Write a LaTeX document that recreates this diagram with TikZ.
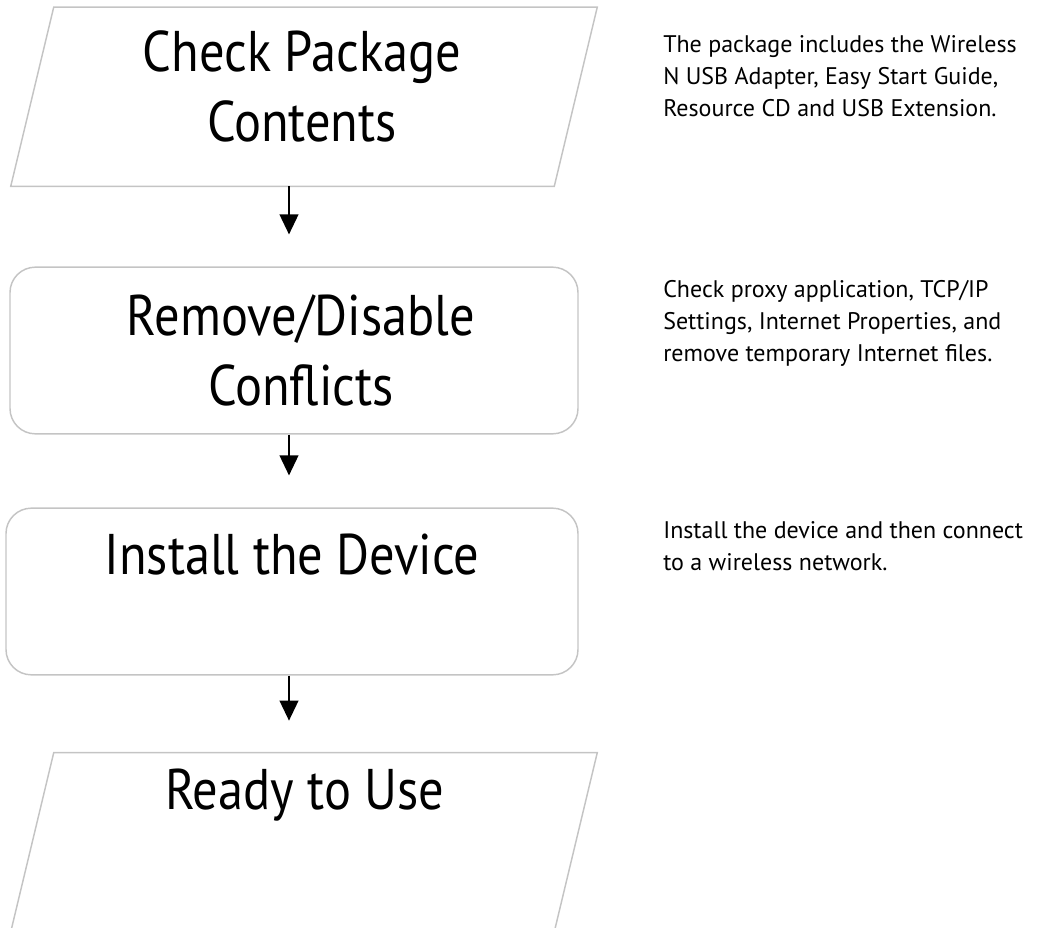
\documentclass[tikz,border=0pt]{standalone}
\usepackage{fontspec}
\setmainfont{PT Sans}
\newfontfamily\titlefont[FakeStretch=0.88]{PT Sans}
\usetikzlibrary{arrows.meta}
\definecolor{boxgray}{HTML}{C4C4C4}
\begin{document}
\begin{tikzpicture}[x=0.75pt,y=-0.75pt,
  roundbox/.style={rectangle, draw=boxgray, line width=1.1pt, rounded corners=19pt,
    minimum height=125pt, inner sep=0pt},
  slantbox/.style={rectangle, inner sep=0pt, minimum width=439.5pt, minimum height=134pt},
  title/.style={inner sep=0pt, align=center,
    font=\titlefont\fontsize{43pt}{52.5pt}\selectfont},
  outline/.style={draw=boxgray, line width=1.1pt, line join=miter},
  flow/.style={line width=1.4pt, -{Triangle[length=15pt,width=14pt]},
    shorten >=24pt},
  note/.style={anchor=north west, inner sep=0pt, align=left,
    font=\fontsize{18pt}{24pt}\selectfont}]
  \path[use as bounding box, clip] (0,0) rectangle (1037,927);

  % flowchart steps
  \node[slantbox] (check) at (304,96.75) {};
  \node[roundbox, minimum width=426pt] (remove) at (294,350.5) {};
  \node[roundbox, minimum width=429pt] (install) at (292,591.5) {};
  \node[slantbox] (ready) at (304,842.25) {};

  % parallelogram outlines of the first and last step
  \foreach \n in {check,ready}
    \draw[outline] ([shift={(43,0)}]\n.north west) -- (\n.north east)
      -- ([shift={(-43,0)}]\n.south east) -- (\n.south west) -- cycle;

  % step titles
  \node[title] (t1) at ([shift={(-2,-10)}]check.center) {Check Package\\Contents};
  \node[title] (t2) at ([shift={(7,0)}]remove.center) {Remove/Disable\\Conflicts};
  \node[title] (t3) at (292,555) {Install the Device};
  \node[title] (t4) at (305,795) {Ready to Use};

  % vertical axis of the arrows
  \coordinate (axis) at (289,0);
  \draw[flow] (check.south -| axis) -- (remove.north -| axis);
  \draw[flow] (remove.south -| axis) -- (install.north -| axis);
  \draw[flow] (install.south -| axis) -- (ready.north -| axis);

  % explanations beside the steps
  \node[note] (n1) at (663,29.6) {\strut The package includes the Wireless\\
    N USB Adapter, Easy Start Guide,\\Resource CD and USB Extension.};
  \node[note] (n2) at (663,274.6) {\strut Check proxy application, TCP/IP\\
    Settings, Internet Properties, and\\remove temporary Internet files.};
  \node[note] (n3) at (663,515.6) {\strut Install the device and then connect\\
    to a wireless network.};
\end{tikzpicture}
\end{document}
